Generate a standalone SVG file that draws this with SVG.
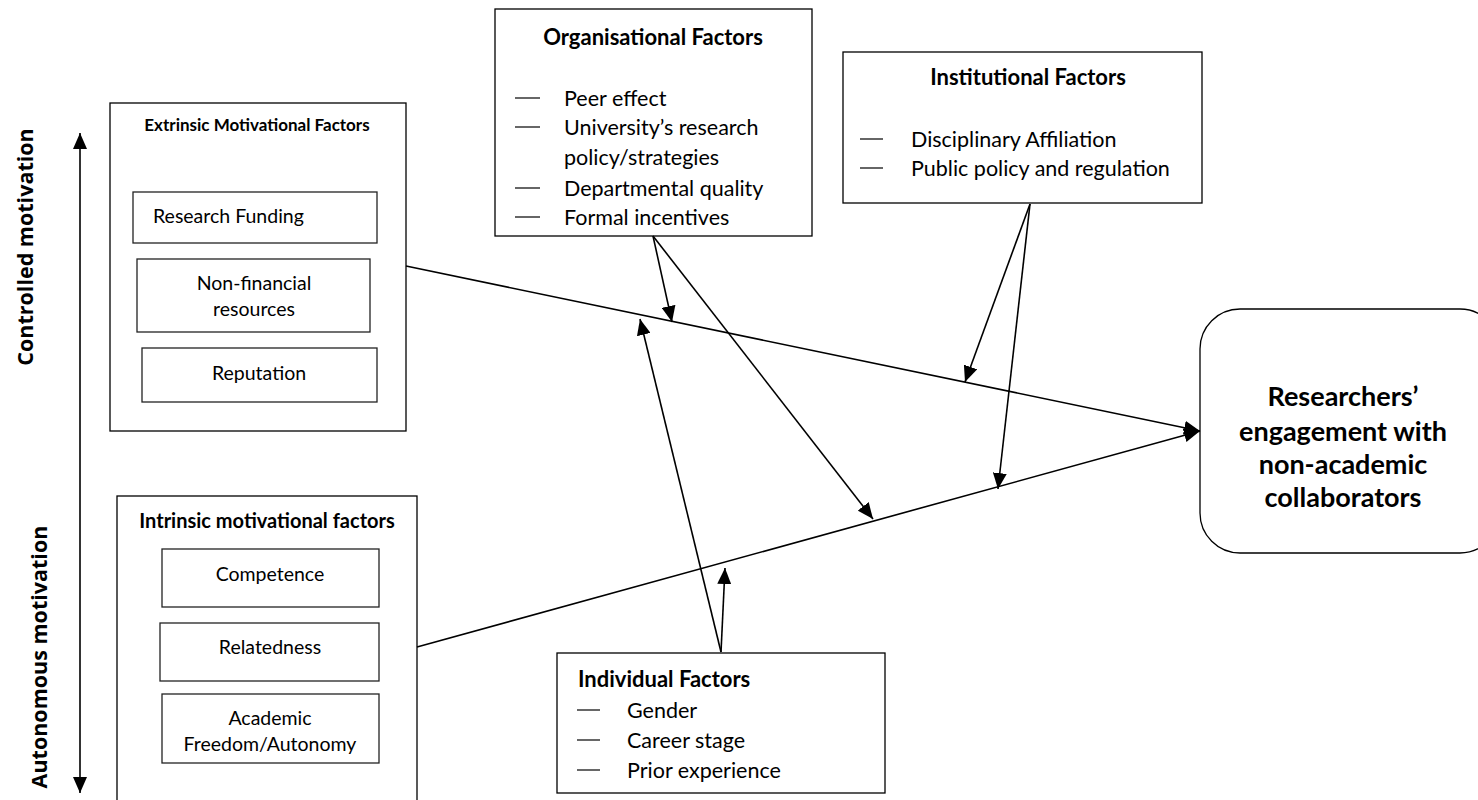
<svg xmlns="http://www.w3.org/2000/svg" width="1478" height="800" viewBox="0 0 1478 800">
  <defs>
    <marker id="arrow" viewBox="0 0 16 14" refX="16" refY="7" markerWidth="16" markerHeight="14" markerUnits="userSpaceOnUse" orient="auto-start-reverse">
      <path d="M0,0 L16,7 L0,14 Z" fill="#000"/>
    </marker>
    <style>
      .box { fill: #fff; stroke: #000; stroke-width: 1.3; }
      .inner { fill: #fff; stroke: #222; stroke-width: 1.3; }
      .t { font-family: Lato, "Liberation Sans", sans-serif; fill: #000; }
      .b { font-weight: 700; }
      .c { text-anchor: middle; }
      .axislabel { font-family: "Open Sans", "Liberation Sans", sans-serif; font-weight: 700; font-size: 21.5px; text-anchor: middle; fill: #000; }
      .item { font-size: 21.5px; }
      .sub { font-size: 19.5px; }
      .dash { stroke: #000; stroke-width: 1.2; }
      .conn { stroke: #000; stroke-width: 1.6; fill: none; marker-end: url(#arrow); }
    </style>
  </defs>
  <rect width="1478" height="800" fill="#fff"/>

  <!-- motivation axis -->
  <g id="axis">
    <line x1="80" y1="133" x2="80" y2="793" class="conn" style="marker-start:url(#arrow)"/>
    <text class="axislabel" transform="translate(33,247) rotate(-90)">Controlled motivation</text>
    <text class="axislabel" transform="translate(47,657) rotate(-90)">Autonomous motivation</text>
  </g>

  <!-- extrinsic factors -->
  <g id="extrinsic">
    <rect x="110" y="103" width="296" height="328" class="box"/>
    <text x="257" y="131" class="t b c" font-size="17">Extrinsic Motivational Factors</text>
    <rect x="133" y="192" width="244" height="51" class="inner"/>
    <text x="153" y="223" class="t sub">Research Funding</text>
    <rect x="137" y="259" width="233" height="73" class="inner"/>
    <text x="254" y="290" class="t c sub">Non-financial</text>
    <text x="254" y="316" class="t c sub">resources</text>
    <rect x="142" y="348" width="235" height="54" class="inner"/>
    <text x="259" y="380" class="t c sub">Reputation</text>
  </g>

  <!-- intrinsic factors -->
  <g id="intrinsic">
    <rect x="117" y="496" width="300" height="320" class="box"/>
    <text x="267" y="528" class="t b c" font-size="20">Intrinsic motivational factors</text>
    <rect x="162" y="549" width="217" height="58" class="inner"/>
    <text x="270" y="581" class="t c sub">Competence</text>
    <rect x="160" y="623" width="219" height="58" class="inner"/>
    <text x="270" y="654" class="t c sub">Relatedness</text>
    <rect x="162" y="694" width="217" height="69" class="inner"/>
    <text x="270" y="725" class="t c sub">Academic</text>
    <text x="270" y="751" class="t c sub">Freedom/Autonomy</text>
  </g>

  <!-- organisational factors -->
  <g id="organisational">
    <rect x="495" y="9" width="317" height="227" class="box"/>
    <text x="653" y="45" class="t b c" font-size="22">Organisational Factors</text>
    <line x1="515" y1="98" x2="540" y2="98" class="dash"/>
    <text x="564" y="105.5" class="t item">Peer effect</text>
    <line x1="515" y1="127" x2="540" y2="127" class="dash"/>
    <text x="564" y="134.5" class="t item">University’s research</text>
    <text x="564" y="164.5" class="t item">policy/strategies</text>
    <line x1="515" y1="188" x2="540" y2="188" class="dash"/>
    <text x="564" y="195.5" class="t item">Departmental quality</text>
    <line x1="515" y1="217" x2="540" y2="217" class="dash"/>
    <text x="564" y="224.5" class="t item">Formal incentives</text>
  </g>

  <!-- institutional factors -->
  <g id="institutional">
    <rect x="843" y="52" width="359" height="151" class="box"/>
    <text x="1028" y="85" class="t b c" font-size="22">Institutional Factors</text>
    <line x1="860" y1="139" x2="883" y2="139" class="dash"/>
    <text x="911" y="146.5" class="t item">Disciplinary Affiliation</text>
    <line x1="860" y1="168" x2="883" y2="168" class="dash"/>
    <text x="911" y="175.5" class="t item">Public policy and regulation</text>
  </g>

  <!-- individual factors -->
  <g id="individual">
    <rect x="557" y="653" width="328" height="140" class="box"/>
    <text x="578" y="687" class="t b" font-size="22">Individual Factors</text>
    <line x1="577" y1="710" x2="600" y2="710" class="dash"/>
    <text x="627" y="717.5" class="t item">Gender</text>
    <line x1="577" y1="740" x2="600" y2="740" class="dash"/>
    <text x="627" y="747.5" class="t item">Career stage</text>
    <line x1="577" y1="770" x2="600" y2="770" class="dash"/>
    <text x="627" y="777.5" class="t item">Prior experience</text>
  </g>

  <!-- outcome -->
  <g id="outcome">
    <rect x="1200" y="309" width="300" height="244" rx="40" ry="40" class="box"/>
    <text x="1343" y="406" class="t b c" font-size="27">Researchers’</text>
    <text x="1343" y="441" class="t b c" font-size="27">engagement with</text>
    <text x="1343" y="474" class="t b c" font-size="27">non-academic</text>
    <text x="1343" y="507" class="t b c" font-size="27">collaborators</text>
  </g>

  <!-- connectors -->
  <g id="connectors">
    <line x1="406" y1="266" x2="1200" y2="431" class="conn"/>
    <line x1="417" y1="647" x2="1200" y2="431" class="conn"/>
    <line x1="653" y1="236" x2="672" y2="322" class="conn"/>
    <line x1="653" y1="236" x2="873" y2="519" class="conn"/>
    <line x1="1030" y1="204" x2="965" y2="382" class="conn"/>
    <line x1="1030" y1="204" x2="998" y2="489" class="conn"/>
    <line x1="721" y1="652" x2="640" y2="319" class="conn"/>
    <line x1="721" y1="652" x2="725" y2="568" class="conn"/>
  </g>
</svg>
